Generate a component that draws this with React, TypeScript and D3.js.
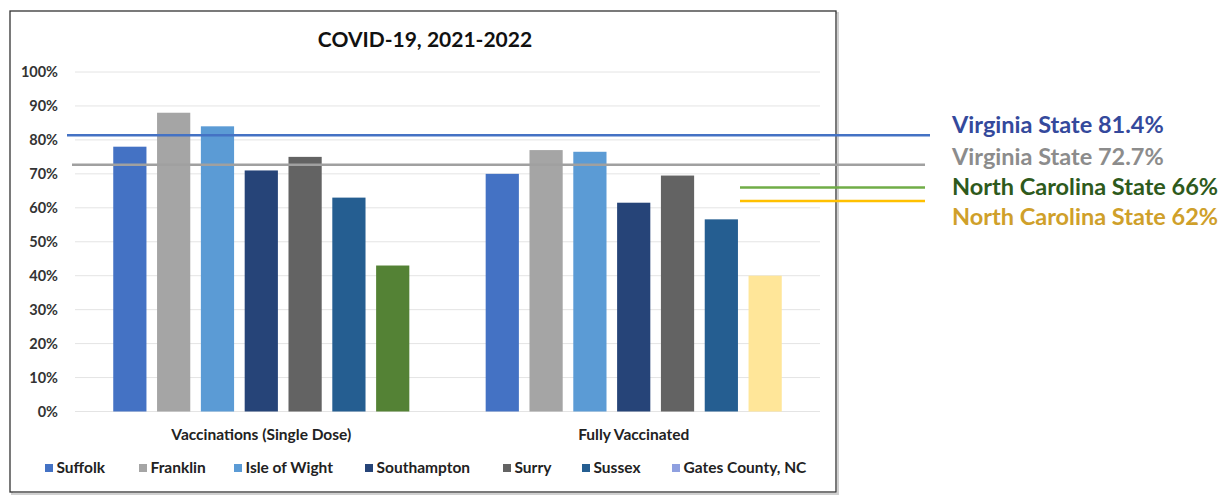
import React from "react";
import * as d3 from "d3";

const categories = ["Vaccinations (Single Dose)", "Fully Vaccinated"];
const seriesNames = ["Suffolk", "Franklin", "Isle of Wight", "Southampton", "Surry", "Sussex", "Gates County, NC"];
const singleDose = [78, 88, 84, 71, 75, 63, 43];
const fullyVaccinated = [70, 77, 76.5, 61.5, 69.5, 56.6, 40];
const yTicks = [0, 10, 20, 30, 40, 50, 60, 70, 80, 90, 100];
const refLabels = ["Virginia State 81.4%", "Virginia State 72.7%", "North Carolina State 66%", "North Carolina State 62%"];
const refValues = [81.4, 72.7, 66, 62];
const title = "COVID-19, 2021-2022";

const seriesColors = ["#4472C4", "#A5A5A5", "#5B9BD5", "#264478", "#636363", "#255E91"];
const gatesColors = ["#548235", "#FFE699"];
const legendSwatchColors = [...seriesColors, "#8FA0E0"];
const refLineColors = ["#4472C4", "#A0A0A0", "#70AD47", "#FFC000"];
const refTextColors = ["#34499C", "#8C8C8C", "#2E5A1C", "#CFA02A"];

const FONT = "Lato, 'Open Sans', sans-serif";

export default function App() {
  const W = 1229, H = 501;
  const plotLeft = 75, plotRight = 820, plotTop = 72, plotBottom = 411.5;
  const y = d3.scaleLinear().domain([0, 100]).range([plotBottom, plotTop]);
  const x0 = d3.scaleBand<string>().domain(categories).range([plotLeft, plotRight]).paddingInner(0.205).paddingOuter(0.1027);
  const x1 = d3.scaleBand<string>().domain(seriesNames).range([0, x0.bandwidth()]).paddingInner(0.242).paddingOuter(0);
  const data = [singleDose, fullyVaccinated];

  const refExtents: [number, number][] = [[67, 930], [72, 925], [740, 925], [740, 925]];
  const refTextY = [125, 156.5, 187, 217];
  const legendX = [45, 139, 234, 365, 503, 582, 672];

  return (
    <svg width={W} height={H} style={{ position: "absolute", left: 0, top: 0, background: "#fff" }}>
      <rect x={0} y={0} width={W} height={H} fill="#fff" />
      <rect x={12} y={13} width={826} height={481} fill="none" stroke="#d0d0d0" strokeWidth={2} />
      <rect x={10} y={11} width={826} height={481} fill="#fff" stroke="#333" strokeWidth={1.3} />
      {yTicks.map((t) => (
        <line key={t} x1={plotLeft} x2={plotRight} y1={y(t)} y2={y(t)} stroke="#e4e4e4" strokeWidth={1} />
      ))}
      {yTicks.map((t) => (
        <text key={"l" + t} x={58} y={y(t)} dy="0.35em" textAnchor="end" fontFamily={FONT} fontWeight={700} fontSize={14.5} fill="#333">
          {t}%
        </text>
      ))}
      <text x={425} y={40} dy="0.35em" textAnchor="middle" fontFamily={FONT} fontWeight={700} fontSize={21} fill="#111">
        {title}
      </text>
      {categories.map((c, ci) => (
        <g key={c} transform={`translate(${x0(c)},0)`}>
          {seriesNames.map((s, si) => {
            const v = data[ci][si];
            const fill = si === 6 ? gatesColors[ci] : seriesColors[si];
            return <rect key={s} x={x1(s)} y={y(v)} width={x1.bandwidth()} height={y(0) - y(v)} fill={fill} />;
          })}
          <text x={x0.bandwidth() / 2} y={435} dy="0.35em" textAnchor="middle" fontFamily={FONT} fontWeight={700} fontSize={15.5} fill="#222">
            {c}
          </text>
        </g>
      ))}
      {refValues.map((v, i) => (
        <line key={"r" + i} x1={refExtents[i][0]} x2={refExtents[i][1]} y1={y(v)} y2={y(v)} stroke={refLineColors[i]} strokeWidth={2.5} />
      ))}
      {refLabels.map((t, i) => (
        <text key={"rt" + i} x={952} y={refTextY[i]} dy="0.35em" fontFamily={FONT} fontWeight={700} fontSize={23.5} fill={refTextColors[i]}>
          {t}
        </text>
      ))}
      {seriesNames.map((s, i) => (
        <g key={"lg" + s} transform={`translate(${legendX[i]},468)`}>
          <rect x={0} y={-4} width={8} height={8} fill={legendSwatchColors[i]} />
          <text x={11.5} y={0} dy="0.35em" fontFamily={FONT} fontWeight={700} fontSize={15.5} fill="#222">
            {s}
          </text>
        </g>
      ))}
    </svg>
  );
}
